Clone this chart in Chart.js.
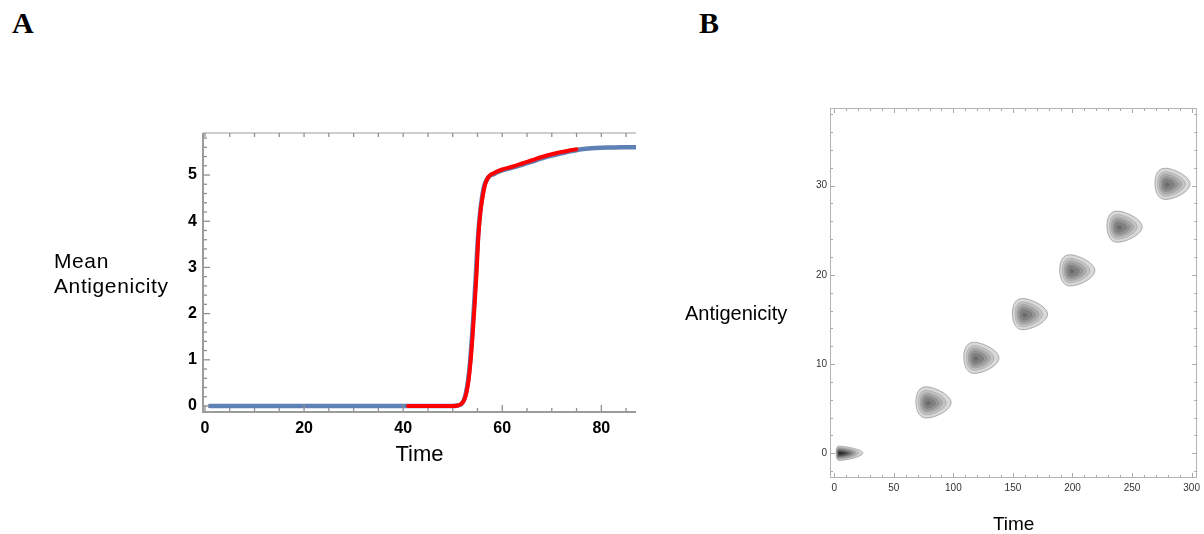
<!DOCTYPE html>
<html>
<head>
<meta charset="utf-8">
<script src="https://cdn.jsdelivr.net/npm/chart.js@4.4.0/dist/chart.umd.min.js"></script>
<style>
  body { margin: 0; background: #fff; width: 1204px; height: 534px; position: relative; overflow: hidden; font-family: "Liberation Sans", Arial, sans-serif; }
  canvas { position: absolute; }
  #chartA { left: 0; top: 100px; }
  #chartB { left: 640px; top: 90px; }
  .panel { position: absolute; font-family: "Liberation Serif", "Times New Roman", serif; font-weight: bold; font-size: 30px; line-height: 30px; }
  .ylab { position: absolute; color: #000; white-space: nowrap; }
</style>
</head>
<body>
<canvas id="chartA" width="660" height="380"></canvas>
<canvas id="chartB" width="564" height="444"></canvas>
<div class="panel" style="left:12px;top:8px">A</div>
<div class="panel" style="left:699px;top:8px">B</div>
<div class="ylab" style="left:54px;top:248px;font-size:21px;line-height:25px;letter-spacing:0.6px">Mean<br>Antigenicity</div>
<div class="ylab" style="left:685px;top:303px;font-size:20px;line-height:20px">Antigenicity</div>
<script>
// panel A : mean antigenicity over time
const blueTime = [1, 10, 20, 30, 40, 45, 50, 51, 51.8, 52.3, 52.7, 53.1, 53.5, 53.9, 54.3, 54.7, 55.1, 55.5, 55.9, 56.4, 57, 57.6, 58.3, 59, 60, 62, 64, 66, 68, 70, 72, 74, 76, 78, 80, 82, 84, 86, 87];
const blueMean = [0, 0, 0, 0, 0, 0, 0, 0.01, 0.05, 0.14, 0.3, 0.55, 0.95, 1.5, 2.15, 2.9, 3.65, 4.15, 4.5, 4.78, 4.92, 4.99, 5.02, 5.06, 5.1, 5.16, 5.22, 5.29, 5.36, 5.42, 5.47, 5.52, 5.56, 5.58, 5.59, 5.595, 5.6, 5.6, 5.6];
const redTime = [41, 45, 50, 51, 51.8, 52.4, 52.8, 53.2, 53.6, 54.0, 54.4, 54.8, 55.2, 55.6, 56.0, 56.5, 57.0, 57.6, 58.3, 59, 60, 62, 64, 66, 68, 70, 72, 74, 75];
const redMean = [0, 0, 0, 0.01, 0.05, 0.15, 0.3, 0.55, 0.95, 1.5, 2.15, 2.85, 3.7, 4.2, 4.5, 4.78, 4.92, 5.0, 5.04, 5.08, 5.12, 5.18, 5.25, 5.32, 5.39, 5.45, 5.5, 5.54, 5.56];
const timeTicksA = [0, 20, 40, 60, 80];
const meanTicksA = [0, 1, 2, 3, 4, 5];

// panel B : antigenicity distribution peaks
const peakTime = [4, 78.5, 118.7, 159.5, 199.2, 238.9, 279.2];
const peakAntigenicity = [0, 5.6, 10.6, 15.5, 20.4, 25.3, 30.1];
const peakHeight = [1.0, 0.62, 0.62, 0.62, 0.62, 0.62, 0.62];
const spreadBefore = [2.5, 10, 10, 10, 10, 10, 10];
const spreadAfter = [20, 19.6, 19.6, 19.6, 19.6, 19.6, 19.6];
const spreadUp = [0.8, 1.85, 1.85, 1.85, 1.85, 1.85, 1.85];
const spreadDown = [0.8, 1.65, 1.65, 1.65, 1.65, 1.65, 1.65];
const timeTicksB = [0, 50, 100, 150, 200, 250, 300];
const antiTicksB = [0, 10, 20, 30];

Chart.defaults.font.family = "'Liberation Sans', Arial, sans-serif";

const toPoints = (xs, ys) => xs.map((x, i) => ({ x: x, y: ys[i] }));

const line = (ctx, x1, y1, x2, y2) => {
  ctx.beginPath();
  ctx.moveTo(x1, y1);
  ctx.lineTo(x2, y2);
  ctx.stroke();
};

const frameA = {
  id: "frameA",
  afterDraw(chart) {
    const { ctx, chartArea: a, scales: { x, y } } = chart;
    ctx.save();
    ctx.strokeStyle = "#8f8f8f";
    ctx.lineWidth = 1.3;
    for (let v = 0; v <= x.max; v += 5) {
      const px = x.getPixelForValue(v);
      line(ctx, px, a.bottom, px, a.bottom - (v % 20 === 0 ? 7 : 4));
      line(ctx, px, a.top, px, a.top + 4);
    }
    for (let i = 0; i / 5 <= y.max; i++) {
      const py = y.getPixelForValue(i / 5);
      line(ctx, a.left, py, a.left + (i % 5 === 0 ? 7 : 4), py);
    }
    ctx.strokeStyle = "#9c9c9c";
    ctx.lineWidth = 2;
    line(ctx, a.left, a.top, a.left, a.bottom + 1);
    line(ctx, a.left, a.bottom, a.right, a.bottom);
    ctx.lineWidth = 1.2;
    line(ctx, a.left, a.top, a.right, a.top);
    ctx.restore();
  },
};

const ctxA = document.getElementById("chartA").getContext("2d");
const chartA = new Chart(ctxA, {
  type: "line",
  data: {
    datasets: [
      {
        label: "red",
        data: toPoints(redTime, redMean),
        borderColor: "#ff0000",
        borderWidth: 4,
        borderCapStyle: "round",
        pointRadius: 0,
        cubicInterpolationMode: "monotone",
      },
      {
        label: "blue",
        data: toPoints(blueTime, blueMean),
        borderColor: "#5e81b5",
        borderWidth: 4.5,
        borderCapStyle: "round",
        pointRadius: 0,
        cubicInterpolationMode: "monotone",
      },
    ],
  },
  options: {
    responsive: false,
    animation: false,
    devicePixelRatio: 1,
    layout: { padding: { left: 173, right: 24, top: 33, bottom: 8 } },
    plugins: { legend: { display: false }, tooltip: { enabled: false } },
    scales: {
      x: {
        type: "linear",
        min: -0.4,
        max: 87,
        afterFit: (s) => { s.height = 60; },
        afterBuildTicks: (s) => { s.ticks = timeTicksA.map((v) => ({ value: v })); },
        grid: { display: false, drawTicks: false },
        border: { display: false },
        ticks: { padding: 7, color: "#000", font: { size: 16, weight: "bold" }, maxRotation: 0 },
        title: { display: true, text: "Time", color: "#000", font: { size: 22, lineHeight: 1 }, padding: { top: 0, bottom: 6 } },
      },
      y: {
        type: "linear",
        min: -0.13,
        max: 5.91,
        afterFit: (s) => { s.width = 30; },
        afterBuildTicks: (s) => { s.ticks = meanTicksA.map((v) => ({ value: v })); },
        grid: { display: false, drawTicks: false },
        border: { display: false },
        ticks: { padding: 6, color: "#000", font: { size: 16, weight: "bold" } },
      },
    },
  },
  plugins: [frameA],
});

// rounded-triangle contour shape, offsets in pixels from the peak
const blob = (ctx, cx, cy, L, R, U, D) => {
  const p = (u, v) => [cx + (u < 0 ? u * L : u * R), cy + (v < 0 ? v * U : v * D)];
  const pts = [
    p(-1, -0.1),
    p(-1, -0.65), p(-0.7, -1), p(-0.15, -1),
    p(0.3, -1), p(1, -0.5), p(1, -0.05),
    p(1, 0.45), p(0.35, 1), p(-0.15, 1),
    p(-0.7, 1), p(-1, 0.5), p(-1, -0.1),
  ];
  ctx.beginPath();
  ctx.moveTo(pts[0][0], pts[0][1]);
  for (let i = 1; i < pts.length; i += 3) {
    ctx.bezierCurveTo(pts[i][0], pts[i][1], pts[i + 1][0], pts[i + 1][1], pts[i + 2][0], pts[i + 2][1]);
  }
  ctx.closePath();
};

const levels = [0.1, 0.2, 0.3, 0.4, 0.5, 0.6, 0.7, 0.8, 0.9];
const levelGray = (k) => {
  const g = Math.round(216 - k * 22);
  return `rgb(${g},${g},${g})`;
};

const contours = {
  id: "contours",
  beforeDatasetsDraw(chart) {
    const { ctx, chartArea: a, scales: { x, y } } = chart;
    ctx.save();
    ctx.beginPath();
    ctx.rect(a.left, a.top, a.width, a.height);
    ctx.clip();
    peakTime.forEach((t, i) => {
      const h = peakHeight[i];
      const ag = peakAntigenicity[i];
      const cx = x.getPixelForValue(t);
      const cy = y.getPixelForValue(ag);
      const L = cx - x.getPixelForValue(t - spreadBefore[i]);
      const R = x.getPixelForValue(t + spreadAfter[i]) - cx;
      const U = cy - y.getPixelForValue(ag + spreadUp[i]);
      const D = y.getPixelForValue(ag - spreadDown[i]) - cy;
      levels.forEach((lv, k) => {
        if (lv >= h) return;
        const f = Math.sqrt(Math.log(h / lv) / Math.log(h / levels[0]));
        blob(ctx, cx, cy, L * f, R * f, U * f, D * f);
        ctx.fillStyle = levelGray(k);
        ctx.fill();
        ctx.strokeStyle = k === 0 ? "rgba(90,90,90,0.6)" : "rgba(110,110,110,0.35)";
        ctx.lineWidth = 0.7;
        ctx.stroke();
      });
    });
    ctx.restore();
  },
};

const frameB = {
  id: "frameB",
  afterDraw(chart) {
    const { ctx, chartArea: a, scales: { x, y } } = chart;
    ctx.save();
    ctx.strokeStyle = "#a8a8a8";
    ctx.lineWidth = 1;
    for (let v = 0; v <= x.max; v += 10) {
      const px = Math.round(x.getPixelForValue(v)) + 0.5;
      const len = v % 50 === 0 ? 5 : 3;
      line(ctx, px, a.bottom, px, a.bottom - len);
      line(ctx, px, a.top, px, a.top + len);
    }
    for (let v = -2; v <= y.max; v += 2) {
      const py = Math.round(y.getPixelForValue(v)) + 0.5;
      const len = v % 10 === 0 ? 5 : 3;
      line(ctx, a.left, py, a.left + len, py);
      line(ctx, a.right, py, a.right - len, py);
    }
    ctx.strokeStyle = "#b4b4b4";
    ctx.strokeRect(Math.round(a.left) + 0.5, Math.round(a.top) + 0.5, Math.round(a.width) - 1, Math.round(a.height) - 1);
    ctx.restore();
  },
};

const ctxB = document.getElementById("chartB").getContext("2d");
const chartB = new Chart(ctxB, {
  type: "scatter",
  data: {
    datasets: [
      {
        label: "peaks",
        data: toPoints(peakTime, peakAntigenicity),
        pointRadius: 0,
      },
    ],
  },
  options: {
    responsive: false,
    animation: false,
    devicePixelRatio: 1,
    layout: { padding: { left: 160, right: 4, top: 18, bottom: 0 } },
    plugins: { legend: { display: false }, tooltip: { enabled: false } },
    scales: {
      x: {
        type: "linear",
        min: -3.6,
        max: 304.8,
        afterFit: (s) => { s.height = 56; },
        afterBuildTicks: (s) => { s.ticks = timeTicksB.map((v) => ({ value: v })); },
        grid: { display: false, drawTicks: false },
        border: { display: false },
        ticks: { padding: 4, color: "#333", font: { size: 10 }, maxRotation: 0 },
        title: { display: true, text: "Time", color: "#000", font: { size: 19, lineHeight: 1 }, padding: { top: 0, bottom: 0 } },
      },
      y: {
        type: "linear",
        min: -2.77,
        max: 38.7,
        afterFit: (s) => { s.width = 30; },
        afterBuildTicks: (s) => { s.ticks = antiTicksB.map((v) => ({ value: v })); },
        grid: { display: false, drawTicks: false },
        border: { display: false },
        ticks: { padding: 3, color: "#333", font: { size: 10 } },
      },
    },
  },
  plugins: [contours, frameB],
});
</script>
</body>
</html>
